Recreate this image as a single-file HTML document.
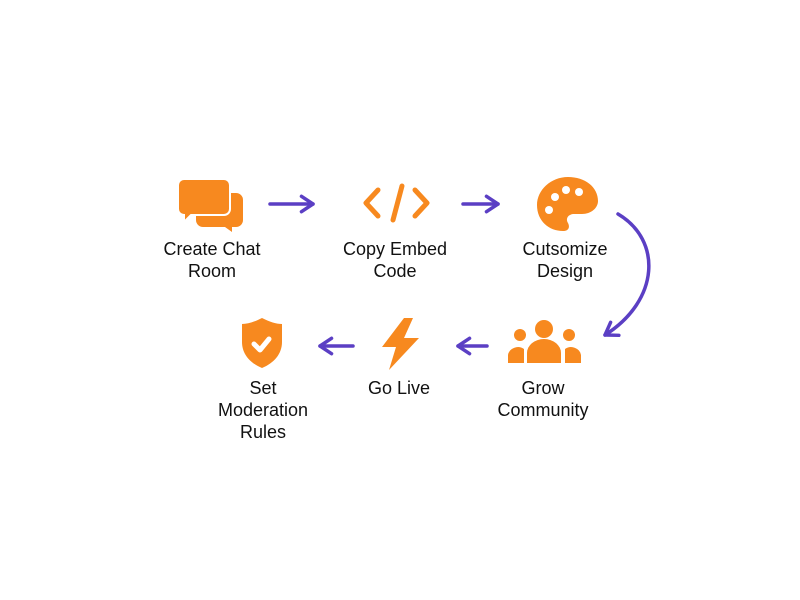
<!DOCTYPE html>
<html><head><meta charset="utf-8"><style>
html,body{margin:0;padding:0;background:#fff;}
svg{display:block}
text{font-family:"Liberation Sans",sans-serif;font-size:18px;fill:#111;text-anchor:middle}
</style></head><body>
<svg width="800" height="600" viewBox="0 0 800 600">
<defs>
<marker id="ah" viewBox="0 0 10 10" refX="7" refY="5" markerWidth="5.5" markerHeight="5.5" orient="auto">
<path d="M1,1 L7,5 L1,9" fill="none" stroke="#5B3FC4" stroke-width="1.8" stroke-linecap="round" stroke-linejoin="round"/>
</marker>
</defs>
<g fill="#F7891F">
<path d="M203,193 h33 a7,7 0 0 1 7,7 v20 a7,7 0 0 1 -7,7 h-4 l0,5 l-7,-5 h-22 a7,7 0 0 1 -7,-7 v-20 a7,7 0 0 1 7,-7z"/>
<path d="M184,179 h40 a6,6 0 0 1 6,6 v24 a6,6 0 0 1 -6,6 h-33 l-7,7 v-7 a6,6 0 0 1 -6,-6 v-24 a6,6 0 0 1 6,-6z" stroke="#fff" stroke-width="2"/>
<path d="M568,177 c-17,0 -31,13 -31,28 c0,16 12,26 26,26 c6,0 7,-4 5,-8 c-3,-5 1,-9 6,-9 h8 c9,0 16,-6 16,-13 c0,-14 -13,-24 -30,-24z"/>
</g>
<g fill="#fff"><circle cx="555" cy="197" r="4"/><circle cx="566" cy="190" r="4"/><circle cx="579" cy="192" r="4"/><circle cx="549" cy="210" r="4"/></g>
<g stroke="#F7891F" stroke-width="5" fill="none" stroke-linecap="round" stroke-linejoin="round">
<path d="M378,190 l-12,13 l12,13"/><path d="M415,190 l12,13 l-12,13"/><path d="M402,186 l-9,34"/>
</g>
<g fill="#F7891F">
<circle cx="544" cy="329" r="9"/><circle cx="520" cy="335" r="6"/><circle cx="569" cy="335" r="6"/>
<path d="M527,363 v-10 a17,14 0 0 1 34,0 v10z"/>
<path d="M508,363 v-8 a10,9 0 0 1 16,-6 v14z"/>
<path d="M581,363 v-8 a10,9 0 0 0 -16,-6 v14z"/>
<path d="M404,318 l-22,29 h14 l-7,23 l30,-32 h-15 l9,-20z"/>
<path d="M262,318 c8,4 14,6 20,6 v18 c0,12 -8,21 -20,26 c-12,-5 -20,-14 -20,-26 v-18 c6,0 12,-2 20,-6z"/>
</g>
<path d="M254,344 l6,6 l9,-11" stroke="#fff" stroke-width="5" fill="none" stroke-linecap="round" stroke-linejoin="round"/>
<g stroke="#5B3FC4" stroke-width="3.5" fill="none" stroke-linecap="round" marker-end="url(#ah)">
<path d="M270,204 H313"/>
<path d="M463,204 H498"/>
<path d="M618,214 C662,240 660,300 605,335"/>
<path d="M487,346 H458"/>
<path d="M353,346 H320"/>
</g>
<text x="212" y="255">Create Chat</text><text x="212" y="277">Room</text>
<text x="395" y="255">Copy Embed</text><text x="395" y="277">Code</text>
<text x="565" y="255">Cutsomize</text><text x="565" y="277">Design</text>
<text x="543" y="394">Grow</text><text x="543" y="416">Community</text>
<text x="399" y="394">Go Live</text>
<text x="263" y="394">Set</text><text x="263" y="416">Moderation</text><text x="263" y="438">Rules</text>
</svg>
</body></html>
